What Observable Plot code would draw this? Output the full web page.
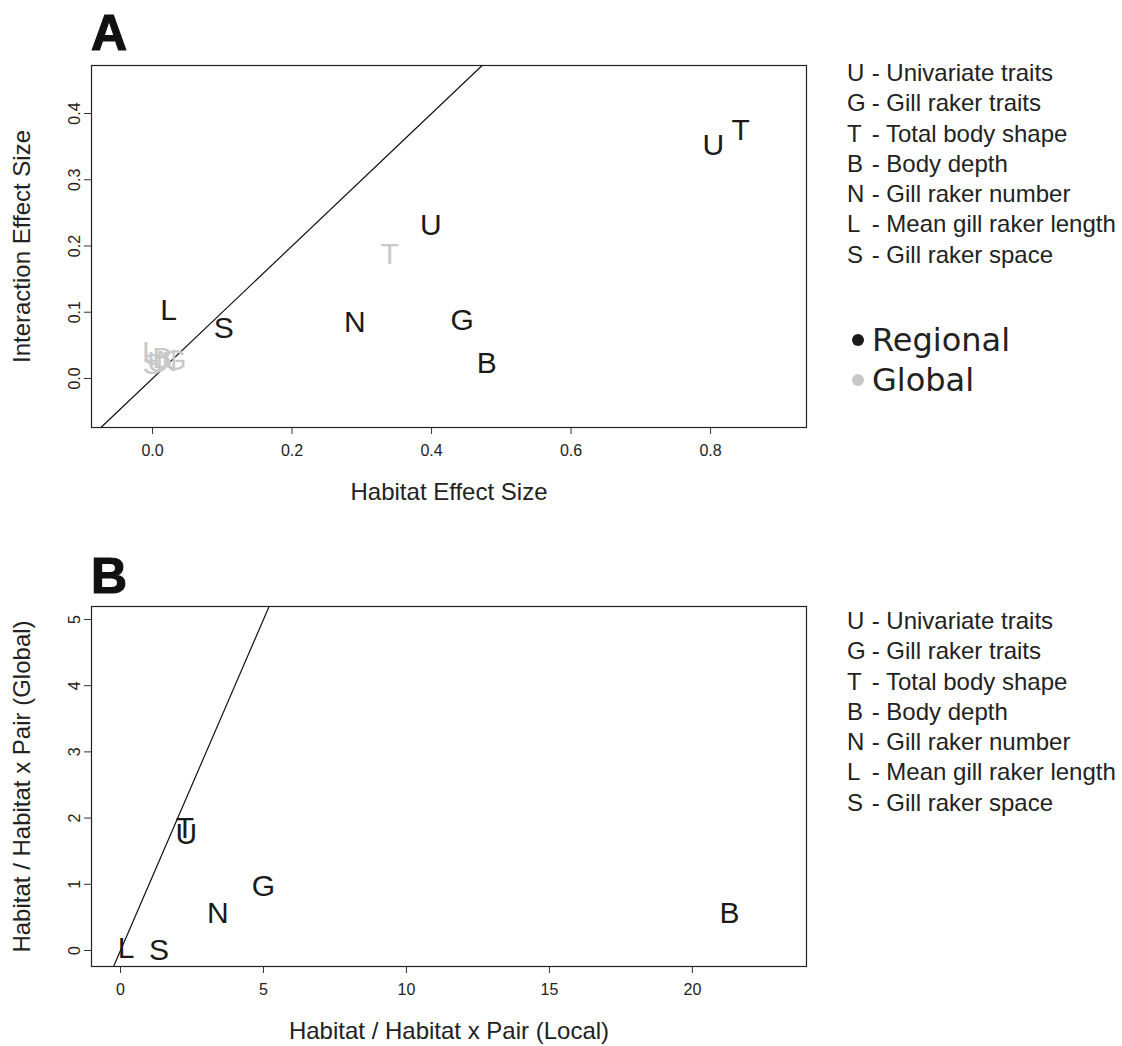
<!DOCTYPE html>
<html>
<head>
<meta charset="utf-8">
<script src="https://cdn.jsdelivr.net/npm/d3@7"></script>
<script src="https://cdn.jsdelivr.net/npm/@observablehq/plot@0.6"></script>
<style>
  body { margin: 0; background: #fff; font-family: "Liberation Sans", Arial, sans-serif; }
  #wrap { position: relative; width: 1122px; height: 1046px; overflow: hidden; }
  .abs { position: absolute; }
  .panel { font-family: "Liberation Sans", Arial, sans-serif; font-weight: bold; font-size: 50px; color: #111; line-height: 1; -webkit-text-stroke: 1.2px #111; }
  .leg { font-family: "Liberation Sans", Arial, sans-serif; font-size: 24px; color: #222; line-height: 30.3px; white-space: nowrap; }
  .leg .code { display: inline-block; width: 18px; }
  .grp { font-family: "DejaVu Sans", sans-serif; font-size: 32px; color: #222; line-height: 40px; white-space: nowrap; }
  .dot { display: inline-block; width: 12px; height: 12px; border-radius: 50%; margin-right: 8px; vertical-align: middle; position: relative; top: -2px; }
</style>
</head>
<body>
<div id="wrap"></div>
<script>
// ---------- data ----------
const traitCodes = ["U", "G", "T", "B", "N", "L", "S"];
const traitNames = ["Univariate traits", "Gill raker traits", "Total body shape", "Body depth", "Gill raker number", "Mean gill raker length", "Gill raker space"];

const groupNames = ["Regional", "Global"];
const groupColors = ["#1a1a1a", "#c8c8c8"];

// Panel A – regional (black)
const aRegionalLabel = ["U", "T", "U", "G", "B", "N", "L", "S"];
const aRegionalX = [0.804, 0.843, 0.399, 0.444, 0.479, 0.290, 0.023, 0.102];
const aRegionalY = [0.352, 0.374, 0.231, 0.087, 0.023, 0.085, 0.103, 0.075];
// Panel A – global (grey)
const aGlobalLabel = ["T", "L", "S", "U", "B", "N", "G"];
const aGlobalX = [0.340, -0.003, 0.000, 0.008, 0.014, 0.020, 0.032];
const aGlobalY = [0.188, 0.040, 0.022, 0.024, 0.030, 0.026, 0.028];

// Panel B
const bLabel = ["T", "U", "G", "N", "B", "L", "S"];
const bX = [2.25, 2.30, 5.00, 3.40, 21.30, 0.20, 1.35];
const bY = [1.84, 1.75, 0.97, 0.56, 0.56, 0.03, 0.00];

const aXTicks = [0, 0.2, 0.4, 0.6, 0.8];
const aYTicks = [0, 0.1, 0.2, 0.3, 0.4];
const bXTicks = [0, 5, 10, 15, 20];
const bYTicks = [0, 1, 2, 3, 4, 5];

const aXDomain = [-0.0875, 0.9375];
const aYDomain = [-0.074, 0.4725];
const bXDomain = [-1.014, 23.99];
const bYDomain = [-0.242, 5.196];

// ---------- helpers ----------
const FONT = "Liberation Sans, Arial, sans-serif";
const rows = (labels, xs, ys, group) => labels.map((l, i) => ({label: l, x: xs[i], y: ys[i], group}));

function panel({data, xDomain, yDomain, xTicks, yTicks, xFmt, yFmt, xTitle, yTitle, width, height, mt, mb}) {
  return Plot.plot({
    width, height,
    marginLeft: 91, marginRight: width - 806, marginTop: mt, marginBottom: mb,
    style: {fontFamily: FONT, background: "white", color: "#222", overflow: "visible"},
    x: {domain: xDomain},
    y: {domain: yDomain},
    color: {domain: groupNames, range: groupColors},
    marks: [
      Plot.axisX(xTicks, {tickSize: 7, tickPadding: 10, fontSize: 16, tickFormat: xFmt, label: null, stroke: "#333"}),
      Plot.axisY(yTicks, {tickSize: 7, tickPadding: 5, tickRotate: -90, fontSize: 16, tickFormat: yFmt, label: null, stroke: "#333"}),
      Plot.line(
        [yDomain[0], Math.min(yDomain[1], xDomain[1])].map(v => ({v})),
        {x: "v", y: "v", stroke: "#111", strokeWidth: 1.2}
      ),
      Plot.text(data, {x: "x", y: "y", text: "label", fill: "group", fontSize: 30, fontFamily: FONT}),
      Plot.frame({stroke: "#222", strokeWidth: 1.2}),
      Plot.text([xTitle], {frameAnchor: "bottom", dy: 65, lineAnchor: "middle", textAnchor: "middle", fontSize: 24, fill: "#222", fontFamily: FONT}),
      Plot.text([yTitle], {frameAnchor: "left", dx: -69, rotate: -90, lineAnchor: "middle", textAnchor: "middle", fontSize: 24, fill: "#222", fontFamily: FONT})
    ]
  });
}

const wrap = document.getElementById("wrap");

const plotA = panel({
  data: [...rows(aGlobalLabel, aGlobalX, aGlobalY, "Global"), ...rows(aRegionalLabel, aRegionalX, aRegionalY, "Regional")],
  xDomain: aXDomain, yDomain: aYDomain, xTicks: aXTicks, yTicks: aYTicks,
  xFmt: d3.format(".1f"), yFmt: d3.format(".1f"),
  xTitle: "Habitat Effect Size", yTitle: "Interaction Effect Size",
  width: 830, height: 510, mt: 65, mb: 83
});
plotA.classList.add("abs");
plotA.style.left = "0px"; plotA.style.top = "0px";
wrap.appendChild(plotA);

const plotB = panel({
  data: rows(bLabel, bX, bY, "Regional"),
  xDomain: bXDomain, yDomain: bYDomain, xTicks: bXTicks, yTicks: bYTicks,
  xFmt: d3.format("d"), yFmt: d3.format("d"),
  xTitle: "Habitat / Habitat x Pair (Local)", yTitle: "Habitat / Habitat x Pair (Global)",
  width: 830, height: 506, mt: 66, mb: 80
});
plotB.classList.add("abs");
plotB.style.left = "0px"; plotB.style.top = "540px";
wrap.appendChild(plotB);

// panel letters
function addDiv(cls, html, left, top) {
  const d = document.createElement("div");
  d.className = "abs " + cls;
  d.innerHTML = html;
  d.style.left = left + "px"; d.style.top = top + "px";
  wrap.appendChild(d);
  return d;
}
addDiv("panel", "A", 91, 8);
addDiv("panel", "B", 91, 551);

// trait legends
function traitLegend(top) {
  const html = traitCodes.map((c, i) => `<div><span class="code">${c}</span> - ${traitNames[i]}</div>`).join("");
  addDiv("leg", html, 847, top);
}
traitLegend(58);
traitLegend(606);

// group legend
addDiv("grp", groupNames.map((g, i) => `<div><span class="dot" style="background:${groupColors[i]}"></span>${g}</div>`).join(""), 852, 320);
</script>
</body>
</html>
